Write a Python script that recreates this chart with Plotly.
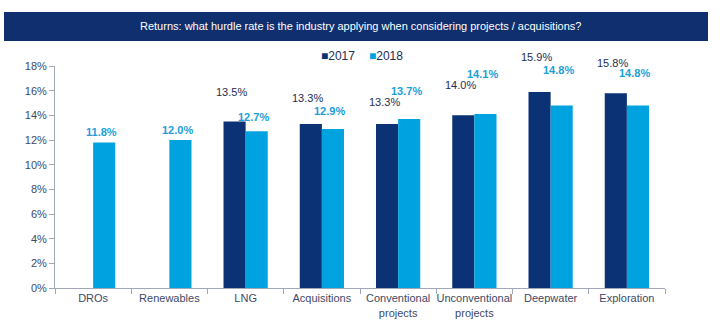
import plotly.graph_objects as go

categories = ["DROs", "Renewables", "LNG", "Acquisitions", "Conventional<br>projects",
              "Unconventional<br>projects", "Deepwater", "Exploration"]
series_names = ["2017", "2018"]
values_2017 = [None, None, 13.5, 13.3, 13.3, 14.0, 15.9, 15.8]
values_2018 = [11.8, 12.0, 12.7, 12.9, 13.7, 14.1, 14.8, 14.8]
y_ticks = [0, 2, 4, 6, 8, 10, 12, 14, 16, 18]
y_tick_labels = [f"{t}%" for t in y_ticks]
title_text = "Returns: what hurdle rate is the industry applying when considering projects / acquisitions?"

# label vertical offsets (px above bar top), styling only
off_2017 = [0, 0, 30, 26, 22, 30, 35, 30]
off_2018 = [10, 10, 14, 18, 28, 40, 35, 32]

c2017 = "#0b3274"
c2018 = "#00a3df"
txt2017 = "#1f2d55"
txt2018 = "#1ba0d8"
font = "Liberation Sans, Arial, sans-serif"

fig = go.Figure()
fig.add_trace(go.Bar(name=series_names[0], x=categories, y=values_2017, marker_color=c2017,
                     marker_line_width=0))
fig.add_trace(go.Bar(name=series_names[1], x=categories, y=values_2018, marker_color=c2018,
                     marker_line_width=0))

anns = []
for i, cat in enumerate(categories):
    v = values_2017[i]
    if v is not None:
        anns.append(dict(x=cat, y=v, xref="x", yref="y", text=f"{v:.1f}%", showarrow=False,
                         xshift=-14, yshift=off_2017[i], yanchor="middle",
                         font=dict(size=11, color=txt2017, family=font)))
    v = values_2018[i]
    if v is not None:
        anns.append(dict(x=cat, y=v, xref="x", yref="y", text=f"<b>{v:.1f}%</b>", showarrow=False,
                         xshift=8, yshift=off_2018[i], yanchor="middle",
                         font=dict(size=11, color=txt2018, family=font)))

anns.append(dict(x=0.5, y=(288 - 26.5) / 222, xref="paper", yref="paper", text=title_text,
                 showarrow=False, xanchor="center", yanchor="middle",
                 font=dict(size=11, color="white", family=font)))

for name, col, px in zip(series_names, [c2017, c2018], [338, 386]):
    anns.append(dict(x=(px - 55) / 610, y=(288 - 56) / 222, xref="paper", yref="paper",
                     text=f"<span style='color:{col}'>■</span>{name}", showarrow=False,
                     xanchor="center", yanchor="middle",
                     font=dict(size=12, color="#1f2d55", family=font)))

fig.update_layout(
    width=720, height=336,
    margin=dict(l=55, r=55, t=66, b=48),
    paper_bgcolor="white", plot_bgcolor="white",
    barmode="group", bargap=0.42, bargroupgap=0,
    font=dict(family=font, size=11, color="#3d4a66"),
    showlegend=False,
    shapes=[dict(type="rect", xref="paper", yref="paper",
                 x0=(4 - 55) / 610, x1=(708 - 55) / 610,
                 y0=(288 - 41) / 222, y1=(288 - 12) / 222,
                 fillcolor="#0f2f6e", line_width=0, layer="below")],
    annotations=anns,
)
fig.update_xaxes(showline=True, linecolor="#a0a8b8", linewidth=1, ticks="outside",
                 tickson="boundaries", ticklen=5, tickcolor="#a0a8b8", showgrid=False,
                 tickfont=dict(size=11, color="#3d4a66"), tickangle=0)
fig.update_yaxes(range=[0, 18], tickmode="array", tickvals=y_ticks, ticktext=y_tick_labels,
                 showline=True, linecolor="#a0a8b8", linewidth=1, ticks="outside", ticklen=5,
                 tickcolor="#a0a8b8", showgrid=False, zeroline=False,
                 tickfont=dict(size=11, color="#3d4a66"))

fig.write_html("out.html")
